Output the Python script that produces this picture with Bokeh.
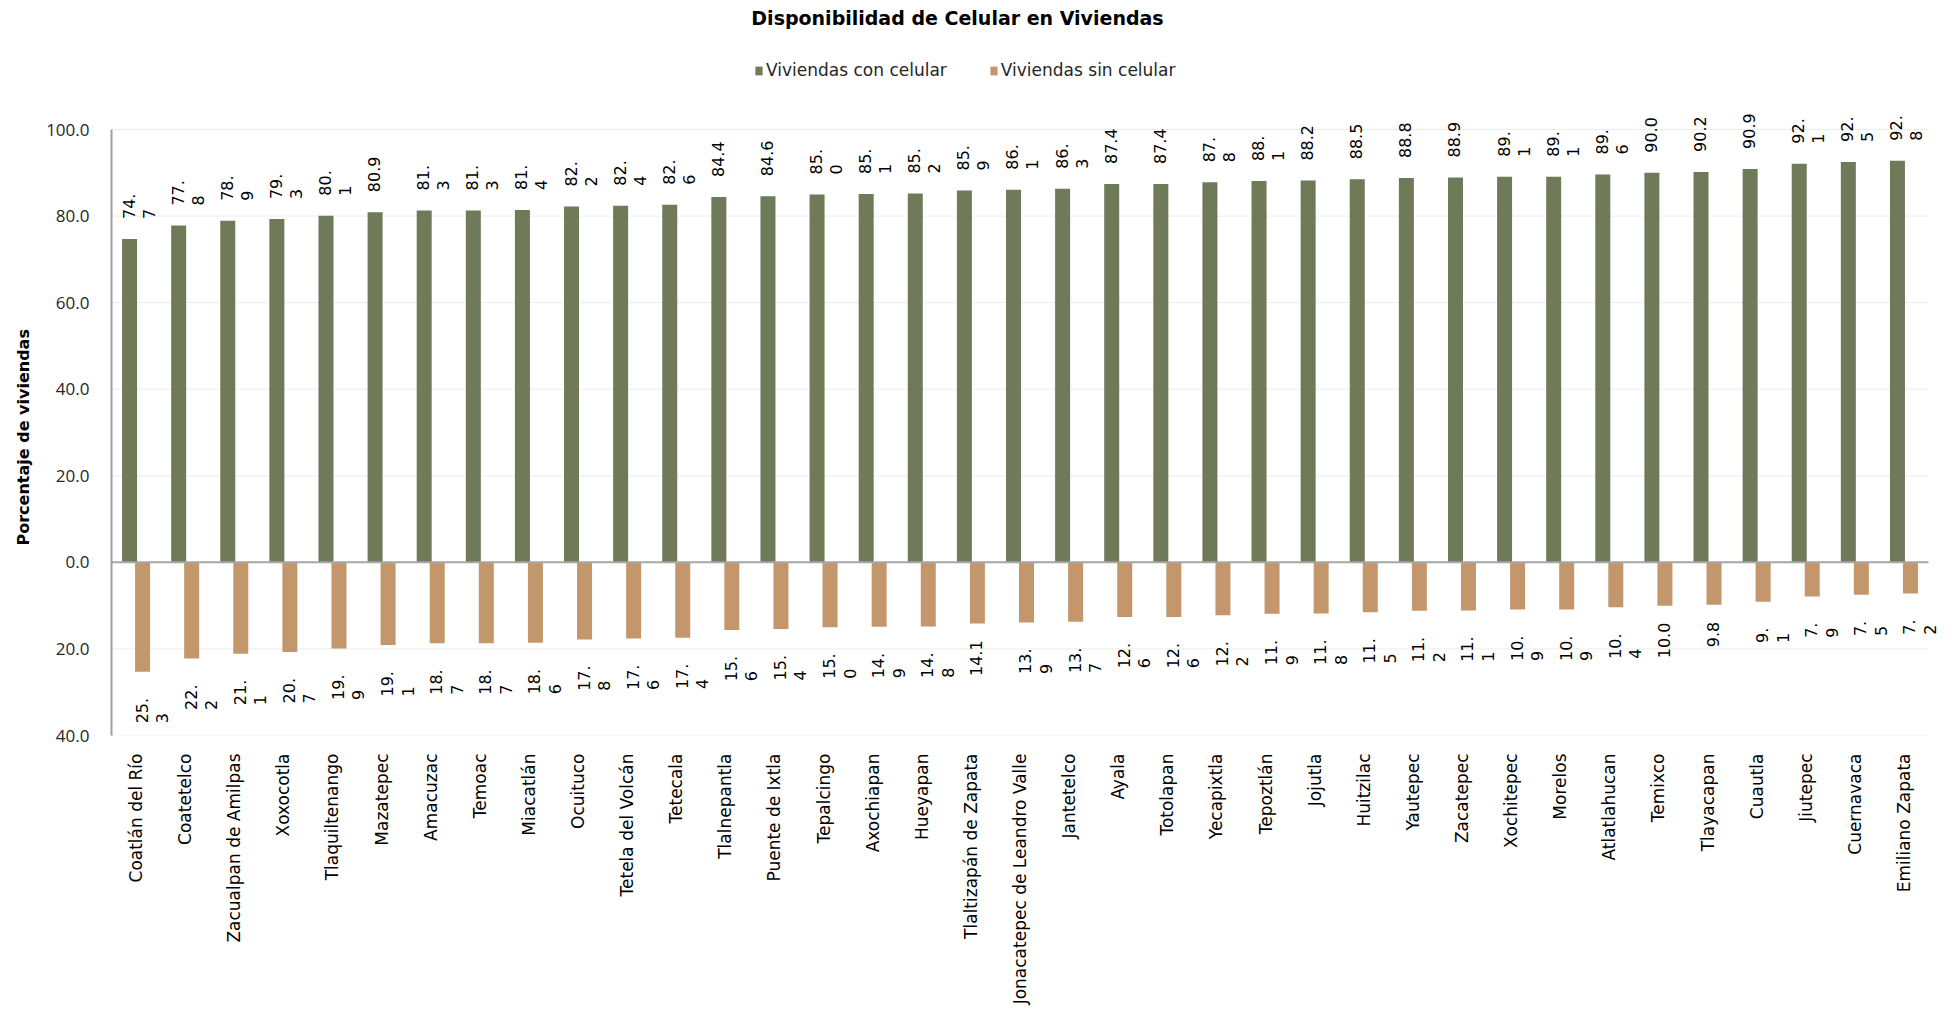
import math
from bokeh.plotting import figure
from bokeh.core.properties import value
from bokeh.models import (ColumnDataSource, Range1d, LabelSet, Label, Title,
                          Legend, LegendItem, FixedTicker)
from bokeh.embed import file_html
from bokeh.resources import INLINE

# ---------------- data ----------------
municipios = [
    "Coatlán del Río", "Coatetelco", "Zacualpan de Amilpas", "Xoxocotla", "Tlaquiltenango",
    "Mazatepec", "Amacuzac", "Temoac", "Miacatlán", "Ocuituco", "Tetela del Volcán",
    "Tetecala", "Tlalnepantla", "Puente de Ixtla", "Tepalcingo", "Axochiapan", "Hueyapan",
    "Tlaltizapán de Zapata", "Jonacatepec de Leandro Valle", "Jantetelco", "Ayala",
    "Totolapan", "Yecapixtla", "Tepoztlán", "Jojutla", "Huitzilac", "Yautepec", "Zacatepec",
    "Xochitepec", "Morelos", "Atlatlahucan", "Temixco", "Tlayacapan", "Cuautla", "Jiutepec",
    "Cuernavaca", "Emiliano Zapata",
]
con_celular = [74.7, 77.8, 78.9, 79.3, 80.1, 80.9, 81.3, 81.3, 81.4, 82.2, 82.4, 82.6, 84.4,
               84.6, 85.0, 85.1, 85.2, 85.9, 86.1, 86.3, 87.4, 87.4, 87.8, 88.1, 88.2, 88.5,
               88.8, 88.9, 89.1, 89.1, 89.6, 90.0, 90.2, 90.9, 92.1, 92.5, 92.8]
sin_celular = [25.3, 22.2, 21.1, 20.7, 19.9, 19.1, 18.7, 18.7, 18.6, 17.8, 17.6, 17.4, 15.6,
               15.4, 15.0, 14.9, 14.8, 14.1, 13.9, 13.7, 12.6, 12.6, 12.2, 11.9, 11.8, 11.5,
               11.2, 11.1, 10.9, 10.9, 10.4, 10.0, 9.8, 9.1, 7.9, 7.5, 7.2]
# whether Excel wrapped the data label onto two lines
con_wrap = [True, True, True, True, True, False, True, True, True, True, True, True, False,
            False, True, True, True, True, True, True, False, False, True, True, False, False,
            False, False, True, True, True, False, False, False, True, True, True]
sin_wrap = [True, True, True, True, True, True, True, True, True, True, True, True, True,
            True, True, True, True, False, True, True, True, True, True, True, True, True,
            True, True, True, True, True, False, False, True, True, True, True]
series_names = ["Viviendas con celular", "Viviendas sin celular"]
y_ticks = [-40, -20, 0, 20, 40, 60, 80, 100]
y_tick_labels = ["40.0", "20.0", "0.0", "20.0", "40.0", "60.0", "80.0", "100.0"]
chart_title = "Disponibilidad de Celular en Viviendas"
y_title = "Porcentaje de viviendas"

# ---------------- layout / style ----------------
GREEN = "#6e7a58"
TAN = "#c3976b"
FONT = "DejaVu Sans"
PLOT_W, PLOT_H = 1817, 606       # the 100..-40 plotting area in px
TOP_PX = 129                     # space above the 100 gridline (title + legend)
EXTRA_R = 14                     # room right of the plot area so end labels are not clipped
Y_MIN, Y_MAX = -40, 100
PPU = PLOT_H / (Y_MAX - Y_MIN)   # px per y unit
Y_TOP = Y_MAX + TOP_PX / PPU     # frame extends up to the top of the canvas
N = len(municipios)
CAT_PX = PLOT_W / N              # px per category
BAR_PX = 15
SHIFT_PX = 6.5
VAL_FS = 16                      # value label font px


def split_label(v, wrap):
    s = f"{v:.1f}"
    if wrap:
        a, b = s.split(".")
        return a + ".", b
    return s, ""


def text_len(s):
    w = 0.0
    for ch in s:
        w += 0.318 if ch == "." else 0.636
    return w * VAL_FS


x_center = [i + 0.5 for i in range(N)]
x_con = [c - SHIFT_PX / CAT_PX for c in x_center]
x_sin = [c + SHIFT_PX / CAT_PX for c in x_center]
neg_sin = [-v for v in sin_celular]

con_l1, con_l2 = zip(*[split_label(v, w) for v, w in zip(con_celular, con_wrap)])
sin_l1, sin_l2 = zip(*[split_label(v, w) for v, w in zip(sin_celular, sin_wrap)])

src = ColumnDataSource(dict(
    mun=municipios, x_con=x_con, x_sin=x_sin, con=con_celular, neg=neg_sin,
    con_l1=list(con_l1), con_l2=list(con_l2), sin_l1=list(sin_l1), sin_l2=list(sin_l2),
    x_con_l1=[x - 1 / CAT_PX for x in x_con],
    x_con_l2=[x + 19 / CAT_PX for x in x_con],
    x_sin_l1=[x - 1 / CAT_PX for x in x_sin],
    x_sin_l2=[x + 19.5 / CAT_PX for x in x_sin],
    y_con_lab=[v + 20 / PPU for v in con_celular],
    y_sin_l1=[-v - (26 if w else 17) / PPU for v, w in zip(sin_celular, sin_wrap)],
    y_sin_l2=[-v - (26 + text_len(a)) / PPU for v, a in zip(sin_celular, sin_l1)],
))

p = figure(
    x_range=Range1d(0, N + EXTRA_R / CAT_PX), y_range=Range1d(Y_MIN, Y_TOP),
    frame_width=PLOT_W + EXTRA_R, frame_height=PLOT_H + TOP_PX,
    min_border_left=111, min_border_right=19 - EXTRA_R, min_border_top=0,
    min_border_bottom=278,
    output_backend="svg", toolbar_location=None,
)
p.outline_line_color = None
p.background_fill_color = "white"
p.border_fill_color = "white"

# horizontal gridlines across the plotting area only
grid_ticks = [t for t in y_ticks if t != 0]
p.segment(x0=[0] * len(grid_ticks), x1=[N] * len(grid_ticks), y0=grid_ticks, y1=grid_ticks,
          line_color="#ececec", line_width=1)

r_con = p.vbar(x="x_con", top="con", bottom=0, width=BAR_PX / CAT_PX, source=src,
               fill_color=GREEN, line_color=None)
r_sin = p.vbar(x="x_sin", top=0, bottom="neg", width=BAR_PX / CAT_PX, source=src,
               fill_color=TAN, line_color=None)

# zero line
p.segment(x0=[0], x1=[N], y0=[0], y1=[0], line_color="#a6a6a6", line_width=2)

# grid & axes
p.xgrid.grid_line_color = None
p.ygrid.grid_line_color = None
p.yaxis.ticker = FixedTicker(ticks=y_ticks)
p.yaxis.bounds = (Y_MIN, Y_MAX)
p.yaxis.major_label_overrides = dict(zip(y_ticks, y_tick_labels))
p.yaxis.minor_tick_line_color = None
p.yaxis.major_tick_line_color = None
p.yaxis.major_tick_out = 0
p.yaxis.major_tick_in = 0
p.yaxis.axis_line_color = "#a0a0a0"
p.yaxis.axis_line_width = 2
p.yaxis.major_label_text_font = "Open Sans"
p.yaxis.major_label_text_font_size = "17px"
p.yaxis.major_label_text_color = "#262626"
p.yaxis.major_label_standoff = 22

# y-axis title: starts (bottom) at 190 px above the frame bottom, as in the reference
p.add_layout(Title(text=y_title, align="left", offset=190, standoff=22,
                   text_font=FONT, text_font_style="bold", text_font_size="16px",
                   text_color="#000000"), "left")

p.xaxis.ticker = FixedTicker(ticks=x_center)
p.xaxis.major_label_overrides = dict(zip(x_center, municipios))
p.xaxis.axis_line_color = None
p.xaxis.major_tick_line_color = None
p.xaxis.minor_tick_line_color = None
p.xaxis.major_tick_out = 0
p.xaxis.major_tick_in = 0
p.xaxis.major_label_orientation = math.pi / 2
p.xaxis.major_label_text_font = FONT
p.xaxis.major_label_text_font_size = "17px"
p.xaxis.major_label_text_color = "#000000"
p.xaxis.major_label_standoff = 18

# value labels
common = dict(source=src, angle=math.pi / 2, text_font=value(FONT),
              text_font_size=value(f"{VAL_FS}px"), text_color=value("#000000"),
              text_baseline=value("middle"))
p.add_layout(LabelSet(x="x_con_l1", y="y_con_lab", text="con_l1", text_align=value("left"), **common))
p.add_layout(LabelSet(x="x_con_l2", y="y_con_lab", text="con_l2", text_align=value("left"), **common))
p.add_layout(LabelSet(x="x_sin_l1", y="y_sin_l1", text="sin_l1", text_align=value("right"), **common))
p.add_layout(LabelSet(x="x_sin_l2", y="y_sin_l2", text="sin_l2", text_align=value("left"), **common))

# title
p.add_layout(Label(x=(957 - 111) / CAT_PX, y=Y_MAX + (129 - 17) / PPU, text=chart_title,
                   text_align="center", text_baseline="middle", text_font=FONT,
                   text_font_style="bold", text_font_size="19px", text_color="#000000"))

# legend
legend = Legend(items=[LegendItem(label=series_names[0], renderers=[r_con]),
                       LegendItem(label=series_names[1], renderers=[r_sin])],
                orientation="horizontal", location=(643, 655),
                glyph_width=9, glyph_height=11, label_standoff=3, spacing=42,
                padding=0, margin=0, border_line_color=None, background_fill_alpha=0,
                label_text_font=FONT, label_text_font_size="17px", label_text_color="#262626",
                label_height=14)
p.add_layout(legend, "center")

open("out.html", "w").write(file_html(p, INLINE))
